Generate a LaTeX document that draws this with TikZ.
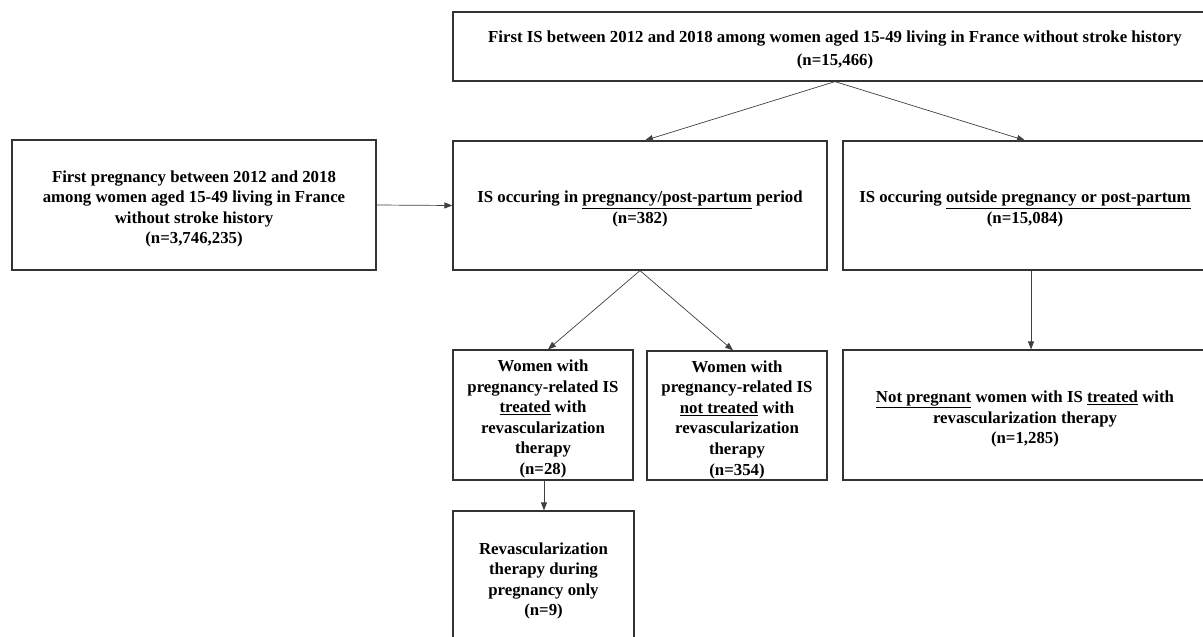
\documentclass[tikz,border=0pt]{standalone}
\usepackage{fontspec}
\setmainfont{Liberation Serif}
\usetikzlibrary{arrows.meta}
\begin{document}
\begin{tikzpicture}[x=1pt,y=-1pt,
  box/.style={draw=black!80, line width=1.2pt, fill=white, inner sep=0pt},
  txt/.style={inner sep=0pt, align=center, text=black,
    font=\bfseries\fontsize{16.8}{20.6}\selectfont},
  arr/.style={draw=black!75, line width=0.7pt, -{Triangle[length=8pt,width=6pt]}}]
\useasboundingbox (0,0) rectangle (1203,637);
\clip (0,0) rectangle (1203,637);
\fill[white] (0,0) rectangle (1203,637);
% boxes
\node[box, minimum width=764pt, minimum height=69pt] (top) at (835,46.5) {};
\node[box, minimum width=364pt, minimum height=130pt] (left) at (194,205) {};
\node[box, minimum width=374pt, minimum height=129pt] (mid) at (640,205.5) {};
\node[box, minimum width=364pt, minimum height=129pt] (right) at (1025,205.5) {};
\node[box, minimum width=180pt, minimum height=130pt] (ta) at (543,415) {};
\node[box, minimum width=180pt, minimum height=129pt] (tb) at (737,415.5) {};
\node[box, minimum width=364pt, minimum height=130pt] (np) at (1025,415) {};
\node[box, minimum width=181pt, minimum height=134pt] (preg) at (543.5,578) {};
% texts
\node[txt, font=\bfseries\fontsize{16.8}{23}\selectfont] (topt) at ([yshift=-3.5pt]top.center)
  {First IS between 2012 and 2018 among women aged 15-49 living in France without stroke history\\(n=15,466)};
\node[txt] (leftt) at ([yshift=-4pt]left.center)
  {First pregnancy between 2012 and 2018\\among women aged 15-49 living in France\\without stroke history\\(n=3,746,235)};
\node[txt] (midt) at ([yshift=-3.5pt]mid.center)
  {IS occuring in \underline{pregnancy/post-partum} period\\(n=382)};
\node[txt] (rightt) at ([yshift=-3.5pt]right.center)
  {IS occuring \underline{outside pregnancy or post-partum}\\(n=15,084)};
\node[txt] (tat) at ([yshift=-4pt]ta.center)
  {Women with\\pregnancy-related IS\\\underline{treated} with\\revascularization\\therapy\\(n=28)};
\node[txt] (tbt) at ([yshift=-4pt]tb.center)
  {Women with\\pregnancy-related IS\\\underline{not treated} with\\revascularization\\therapy\\(n=354)};
\node[txt] (npt) at ([yshift=-4pt]np.center)
  {\underline{Not pregnant} women with IS \underline{treated} with\\revascularization therapy\\(n=1,285)};
\node[txt] (pregt) at ([yshift=-3pt]preg.center)
  {Revascularization\\therapy during\\pregnancy only\\(n=9)};
% connectors
\draw[arr] (top.south) -- ([xshift=5pt]mid.north);
\draw[arr] (top.south) -- (right.north);
\draw[arr] (left.east) -- (mid.west);
\draw[arr] (mid.south) -- ([xshift=5pt]ta.north);
\draw[arr] (mid.south) -- ([xshift=-4pt]tb.north);
\draw[arr] ([xshift=6pt]right.south) -- ([xshift=6pt]np.north);
\draw[arr] ([xshift=1pt]ta.south) -- ([xshift=0.5pt]preg.north);
\end{tikzpicture}
\end{document}
